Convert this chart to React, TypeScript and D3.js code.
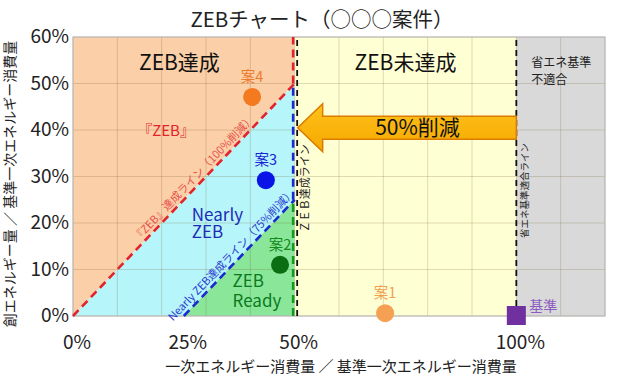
import React from "react";
import * as d3 from "d3";

const W = 618;
const H = 381;
const M = { top: 37, right: 13, bottom: 65, left: 73 };

const X_MAX = 1.2;
const Y_MAX = 0.6;
const gridValuesX = [0, 0.1, 0.2, 0.3, 0.4, 0.5, 0.6, 0.7, 0.8, 0.9, 1.0, 1.1, 1.2];
const gridValuesY = [0, 0.1, 0.2, 0.3, 0.4, 0.5, 0.6];

const xTickValues = [0, 0.25, 0.5, 1.0];
const xTickLabels = ["0%", "25%", "50%", "100%"];
const yTickValues = [0, 0.1, 0.2, 0.3, 0.4, 0.5, 0.6];
const yTickLabels = ["0%", "10%", "20%", "30%", "40%", "50%", "60%"];

// thresholds: creation = consumption - offset
const ZEB_OFFSET = 0;
const NEARLY_OFFSET = 0.25;
const READY_X = 0.5;
const STANDARD_X = 1.0;
const ARROW_Y = 0.405;

const caseNames = ["案1", "案2", "案3", "案4"];
const caseX = [0.704, 0.467, 0.435, 0.404];
const caseY = [0.006, 0.11, 0.292, 0.471];
const caseFill = ["#f5a052", "#0c6e12", "#0a14e6", "#f47a1f"];
const caseText = ["#f0a050", "#158a1c", "#1a22d8", "#f07a28"];

const baseName = "基準";
const baseX = 1.0;
const baseY = 0;

const FONT = "'Noto Sans CJK JP', 'Noto Sans', sans-serif";

export default function App() {
  const x = d3.scaleLinear().domain([0, X_MAX]).range([M.left, W - M.right]);
  const y = d3.scaleLinear().domain([0, Y_MAX]).range([H - M.bottom, M.top]);
  const poly = (pts: [number, number][]) =>
    (d3.line<[number, number]>().x((d) => x(d[0])).y((d) => y(d[1]))(pts) || "") + "Z";

  const orange = poly([[0, ZEB_OFFSET], [READY_X, READY_X - ZEB_OFFSET], [READY_X, Y_MAX], [0, Y_MAX]]);
  const cyan = poly([[0, 0], [NEARLY_OFFSET, 0], [READY_X, READY_X - NEARLY_OFFSET], [READY_X, READY_X - ZEB_OFFSET]]);
  const green = poly([[NEARLY_OFFSET, 0], [READY_X, 0], [READY_X, READY_X - NEARLY_OFFSET]]);
  const yellow = poly([[READY_X, 0], [STANDARD_X, 0], [STANDARD_X, Y_MAX], [READY_X, Y_MAX]]);
  const grey = poly([[STANDARD_X, 0], [X_MAX, 0], [X_MAX, Y_MAX], [STANDARD_X, Y_MAX]]);

  const angle = (Math.atan2(y(0.5) - y(0), x(0.5) - x(0)) * 180) / Math.PI;

  const ay = y(ARROW_Y);
  const tipX = x(READY_X) + 3;
  const headBase = tipX + 25;
  const endX = x(STANDARD_X);
  const arrowPath = `M${tipX},${ay} L${headBase},${ay - 24} L${headBase},${ay - 11.5} L${endX},${ay - 11.5} L${endX},${ay + 11.5} L${headBase},${ay + 11.5} L${headBase},${ay + 24} Z`;

  const redPt: [number, number] = [0.285, 0.285 - ZEB_OFFSET];
  const bluePt: [number, number] = [0.37, 0.37 - NEARLY_OFFSET];

  return (
    <svg width={W} height={H} style={{ position: "absolute", left: 0, top: 0, background: "#fff" }} fontFamily={FONT}>
      <defs>
        <linearGradient id="arrowGrad" x1="0" y1="0" x2="0" y2="1">
          <stop offset="0" stopColor="#ffc21a" />
          <stop offset="1" stopColor="#f5a800" />
        </linearGradient>
      </defs>
      <text x={322} y={27} textAnchor="middle" fontSize={20.5} fill="#222">ZEBチャート（○○○案件）</text>

      <path d={orange} fill="#fbcfa8" />
      <path d={cyan} fill="#b6f5fa" />
      <path d={green} fill="#8ae699" />
      <path d={yellow} fill="#ffffd4" />
      <path d={grey} fill="#d9d9d9" />

      {gridValuesX.map((v) => (
        <line key={"gx" + v} x1={x(v)} x2={x(v)} y1={y(0)} y2={y(Y_MAX)} stroke="rgba(110,90,40,0.22)" strokeWidth={1} />
      ))}
      {gridValuesY.map((v) => (
        <line key={"gy" + v} x1={x(0)} x2={x(X_MAX)} y1={y(v)} y2={y(v)} stroke="rgba(110,90,40,0.22)" strokeWidth={1} />
      ))}
      <rect x={x(0)} y={y(Y_MAX)} width={x(X_MAX) - x(0)} height={y(0) - y(Y_MAX)} fill="none" stroke="#bdbdbd" strokeWidth={1.2} />

      {/* threshold lines */}
      <line x1={x(0)} y1={y(0)} x2={x(READY_X)} y2={y(READY_X - ZEB_OFFSET)} stroke="#e3222a" strokeWidth={2.6} strokeDasharray="8 5" />
      <line x1={x(READY_X) - 1.5} y1={y(READY_X - ZEB_OFFSET)} x2={x(READY_X) - 1.5} y2={y(Y_MAX)} stroke="#e3222a" strokeWidth={2.6} strokeDasharray="8 5" />
      <line x1={x(NEARLY_OFFSET)} y1={y(0)} x2={x(READY_X)} y2={y(READY_X - NEARLY_OFFSET)} stroke="#1a2ad0" strokeWidth={2.6} strokeDasharray="8 5" />
      <line x1={x(READY_X) - 1.5} y1={y(READY_X - NEARLY_OFFSET)} x2={x(READY_X) - 1.5} y2={y(READY_X - ZEB_OFFSET)} stroke="#1a2ad0" strokeWidth={2.6} strokeDasharray="8 5" />
      <line x1={x(READY_X) - 1.5} y1={y(0)} x2={x(READY_X) - 1.5} y2={y(READY_X - NEARLY_OFFSET)} stroke="#119a1e" strokeWidth={2.6} strokeDasharray="8 5" />
      <line x1={x(READY_X) + 2.5} y1={y(0)} x2={x(READY_X) + 2.5} y2={y(Y_MAX)} stroke="#111" strokeWidth={1.8} strokeDasharray="6 4" />
      <line x1={x(STANDARD_X)} y1={y(0)} x2={x(STANDARD_X)} y2={y(Y_MAX)} stroke="#111" strokeWidth={1.8} strokeDasharray="6 4" />

      {/* arrow */}
      <path d={arrowPath} fill="url(#arrowGrad)" stroke="#d97c00" strokeWidth={1.5} />
      <text x={(headBase + endX) / 2 - 2} y={ay + 7} textAnchor="middle" fontSize={21} fill="#111">50%削減</text>

      {/* region labels */}
      <text x={x(0.24)} y={y(0.545) + 7} textAnchor="middle" fontSize={21} fill="#111">ZEB達成</text>
      <text x={x(0.75)} y={y(0.545) + 7} textAnchor="middle" fontSize={21} fill="#111">ZEB未達成</text>
      <text x={x(STANDARD_X) + 15} y={y(0.535)} fontSize={12} fill="#222">省エネ基準</text>
      <text x={x(STANDARD_X) + 15} y={y(0.5)} fontSize={12} fill="#222">不適合</text>
      <text x={x(0.21)} y={y(0.4) + 6} textAnchor="middle" fontSize={15} fill="#e3222a">『ZEB』</text>
      <text x={x(0.268)} y={y(0.205)} fontSize={17} fill="#1f2bb5">Nearly</text>
      <text x={x(0.268)} y={y(0.167)} fontSize={17} fill="#1f2bb5">ZEB</text>
      <text x={x(0.36)} y={y(0.062)} fontSize={17} fill="#0b7a1e">ZEB</text>
      <text x={x(0.36)} y={y(0.02)} fontSize={17} fill="#0b7a1e">Ready</text>

      {/* line labels */}
      <text transform={`translate(${x(redPt[0])},${y(redPt[1])}) rotate(${angle})`} dy={-4} textAnchor="middle" fontSize={11} fill="#e8504a">『ZEB』達成ライン（100%削減）</text>
      <text transform={`translate(${x(bluePt[0])},${y(bluePt[1])}) rotate(${angle})`} dy={-4} textAnchor="middle" fontSize={11} fill="#2a3ad0">Nearly ZEB達成ライン（75%削減）</text>
      <text transform={`translate(${x(READY_X) + 14},${y(0.275)}) rotate(-90)`} textAnchor="middle" fontSize={11} fill="#222">ＺＥＢ達成ライン</text>
      <text transform={`translate(${x(STANDARD_X) + 12},${y(0.27)}) rotate(-90)`} textAnchor="middle" fontSize={9.5} fill="#222">省エネ基準適合ライン</text>

      {/* points */}
      {caseNames.map((n, i) => (
        <g key={n}>
          <circle cx={x(caseX[i])} cy={y(caseY[i])} r={9} fill={caseFill[i]} />
          <text x={x(caseX[i])} y={y(caseY[i]) - 15} textAnchor="middle" fontSize={14.5} fill={caseText[i]}>{n}</text>
        </g>
      ))}
      <rect x={x(baseX) - 9.5} y={y(baseY) - 10} width={19} height={19} fill="#7030a0" />
      <text x={x(baseX) + 13} y={y(baseY) - 5} fontSize={14} fill="#8a5cc0">{baseName}</text>

      {/* axes */}
      {yTickValues.map((v, i) => (
        <text key={"yt" + v} x={x(0) - 4} y={y(v) + 6} textAnchor="end" fontSize={19} fill="#222">{yTickLabels[i]}</text>
      ))}
      {xTickValues.map((v, i) => (
        <text key={"xt" + v} x={x(v) + 4} y={349} textAnchor="middle" fontSize={19} fill="#222">{xTickLabels[i]}</text>
      ))}
      <text x={341} y={372} textAnchor="middle" fontSize={15} fill="#222">一次エネルギー消費量 ／ 基準一次エネルギー消費量</text>
      <text transform={`translate(15,${184}) rotate(-90)`} textAnchor="middle" fontSize={14} fill="#222">創エネルギー量 ／ 基準一次エネルギー消費量</text>
    </svg>
  );
}
